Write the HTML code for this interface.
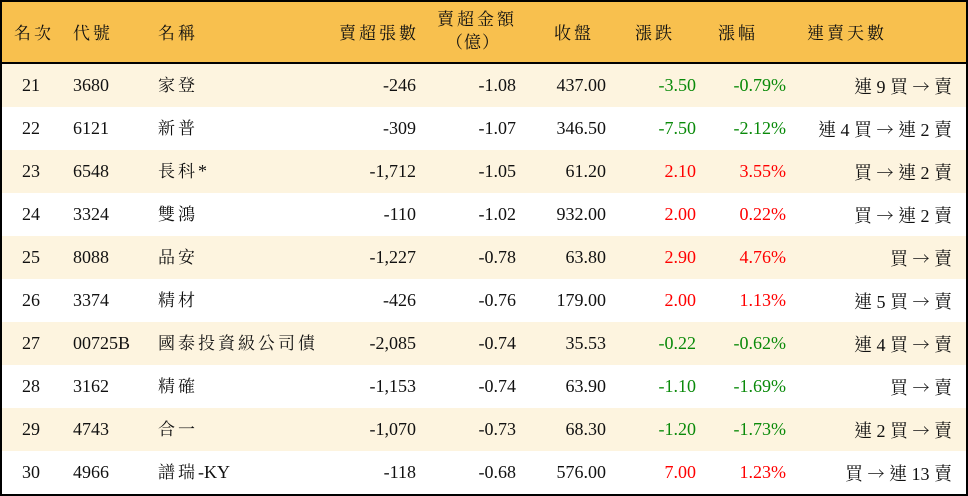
<!DOCTYPE html>
<html><head><meta charset="utf-8"><style>
html,body{margin:0;padding:0;background:#fff;}
#t{position:relative;width:968px;height:496px;overflow:hidden;font-family:"Liberation Serif","Noto Serif CJK TC","Noto Serif CJK SC",serif;font-size:18px;color:#111;}
.frame{position:absolute;left:0;top:0;width:964px;height:492px;border:2px solid #000;pointer-events:none;}
.hd{position:absolute;left:0;top:0;width:968px;height:62px;background:#f8c04e;border-bottom:2px solid #000;}
.r{position:absolute;left:0;width:968px;height:43px;}
.c{position:absolute;top:0;height:43px;line-height:43px;white-space:nowrap;}
.cj{letter-spacing:3px;font-size:17px;}
.l{letter-spacing:0;font-size:18px;}
.R{text-align:right;}
.g{color:#0a8a0a}.d{color:#f00}
.a{font-family:"Noto Serif CJK TC","Noto Sans CJK TC",serif;font-size:17px;}
.h{position:absolute;white-space:nowrap;font-size:17px;letter-spacing:3px;line-height:20px;color:#111;}
</style></head><body><div id="t">
<div class="hd"></div>
<div class="h" style="left:14px;top:24px">名次</div>
<div class="h" style="left:73px;top:24px">代號</div>
<div class="h" style="left:158px;top:24px">名稱</div>
<div class="h" style="left:339px;top:24px">賣超張數</div>
<div class="h" style="left:437px;top:10px">賣超金額</div>
<div class="h" style="left:446px;top:33px;letter-spacing:1px">（億）</div>
<div class="h" style="left:554px;top:24px">收盤</div>
<div class="h" style="left:635px;top:24px">漲跌</div>
<div class="h" style="left:718px;top:24px">漲幅</div>
<div class="h" style="left:807px;top:24px">連賣天數</div>
<div id="rows"></div>
<div class="frame"></div>
</div>
<script>
var d=[
["21","3680","家登","-246","-1.08","437.00","-3.50","-0.79%","g","連 9 買 → 賣"],
["22","6121","新普","-309","-1.07","346.50","-7.50","-2.12%","g","連 4 買 → 連 2 賣"],
["23","6548","長科<span class='l'>*</span>","-1,712","-1.05","61.20","2.10","3.55%","d","買 → 連 2 賣"],
["24","3324","雙鴻","-110","-1.02","932.00","2.00","0.22%","d","買 → 連 2 賣"],
["25","8088","品安","-1,227","-0.78","63.80","2.90","4.76%","d","買 → 賣"],
["26","3374","精材","-426","-0.76","179.00","2.00","1.13%","d","連 5 買 → 賣"],
["27","00725B","國泰投資級公司債","-2,085","-0.74","35.53","-0.22","-0.62%","g","連 4 買 → 賣"],
["28","3162","精確","-1,153","-0.74","63.90","-1.10","-1.69%","g","買 → 賣"],
["29","4743","合一","-1,070","-0.73","68.30","-1.20","-1.73%","g","連 2 買 → 賣"],
["30","4966","譜瑞<span class='l'>-KY</span>","-118","-0.68","576.00","7.00","1.23%","d","買 → 連 13 賣"]];
var h="";
d.forEach(function(r,i){
var top=64+43*i;
var last=r[9].replace("→","<span class='a'>→</span>");
h+='<div class="r" style="top:'+top+'px;background:'+(i%2==0?'#fdf4df':'#fff')+'">'+
'<div class="c" style="left:22px">'+r[0]+'</div>'+
'<div class="c" style="left:73px">'+r[1]+'</div>'+
'<div class="c cj" style="left:158px">'+r[2]+'</div>'+
'<div class="c R" style="right:552px">'+r[3]+'</div>'+
'<div class="c R" style="right:452px">'+r[4]+'</div>'+
'<div class="c R" style="right:362px">'+r[5]+'</div>'+
'<div class="c R '+r[8]+'" style="right:272px">'+r[6]+'</div>'+
'<div class="c R '+r[8]+'" style="right:182px">'+r[7]+'</div>'+
'<div class="c R" style="right:16px">'+last+'</div></div>';
});
document.getElementById("rows").innerHTML=h;
</script>
</body></html>
